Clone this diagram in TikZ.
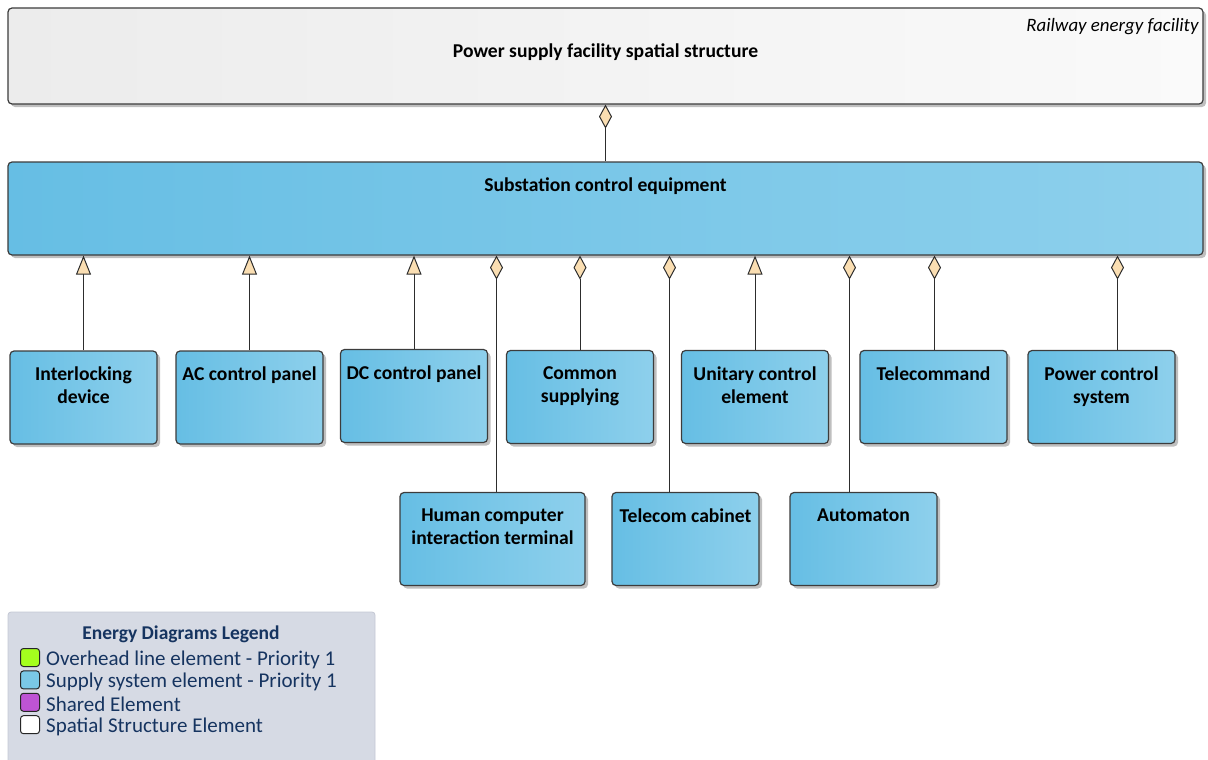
\documentclass[tikz,border=0pt]{standalone}
\usepackage{fontspec}
\setmainfont{Carlito}
\usepackage{tikz}
\usetikzlibrary{arrows.meta, positioning, shadows}
\definecolor{edgegray}{RGB}{60,60,60}
\definecolor{linegray}{RGB}{45,45,45}
\definecolor{elemL}{RGB}{102,190,228}
\definecolor{elemR}{RGB}{142,208,236}
\definecolor{spatL}{RGB}{236,236,236}
\definecolor{spatR}{RGB}{250,250,250}
\definecolor{tipfill}{RGB}{250,222,178}
\definecolor{legfill}{RGB}{214,218,228}
\definecolor{legedge}{RGB}{196,200,212}
\definecolor{legnavy}{RGB}{22,52,96}
\definecolor{ohlgreen}{RGB}{164,255,30}
\definecolor{supblue}{RGB}{122,200,230}
\definecolor{sharedpurple}{RGB}{190,84,212}
\tikzset{
  elem/.style={rectangle, draw=edgegray, line width=1.2pt, rounded corners=4pt,
    left color=elemL, right color=elemR, minimum width=147pt, minimum height=93pt,
    inner sep=0pt, drop shadow={shadow xshift=3pt, shadow yshift=-3pt, fill=black!25, opacity=1}},
  spatialbox/.style={elem, left color=spatL, right color=spatR,
    minimum width=1195pt, minimum height=96pt},
  elemtext/.style={anchor=north, yshift=-13pt, align=center,
    font=\bfseries\fontsize{19.6}{23}\selectfont},
  stereo/.style={anchor=north east, xshift=-1.5pt, yshift=-7pt,
    font=\itshape\fontsize{18.9}{23}\selectfont},
  compose/.style={draw=linegray, line width=1pt,
    -{Diamond[length=24pt, width=13pt, fill=tipfill]}},
  inherit/.style={draw=linegray, line width=1pt,
    -{Triangle[length=19pt, width=15pt, fill=tipfill]}},
  legendbox/.style={rectangle, draw=legedge, fill=legfill, line width=0.8pt,
    rounded corners=3pt, minimum width=367pt, minimum height=160pt},
  legtitle/.style={text=legnavy, font=\bfseries\fontsize{19.5}{22}\selectfont},
  legtext/.style={text=legnavy, anchor=west, inner sep=0pt,
    font=\fontsize{21}{22.5}\selectfont},
  swatch/.style={rectangle, draw=black!85, line width=1pt, rounded corners=3pt,
    minimum width=19pt, minimum height=18pt, inner sep=0pt}
}

\begin{document}
\begin{tikzpicture}[x=1pt, y=-1pt]
  \clip (0,0) rectangle (1208,760);

  % spatial structure and the equipment it holds
  \node[spatialbox, label={[elemtext, yshift=-20pt]north:Power supply facility spatial structure},
    label={[stereo]north east:Railway energy facility}] (spatial) at (605.5,56) {};
  \node[elem, minimum width=1195pt, label={[elemtext]north:Substation control equipment}]
    (substation) at (605.5,208.5) {};

  % first row
  \node[elem, label={[elemtext]north:Interlocking\\device}] (interlock) at (83.5,397.5) {};
  \node[elem, label={[elemtext]north:AC control panel}] (acpanel) at (249.5,397.5) {};
  \node[elem, label={[elemtext]north:DC control panel}] (dcpanel) at (414,396) {};
  \node[elem, label={[elemtext]north:Common\\supplying}] (common) at (580,397) {};
  \node[elem, label={[elemtext]north:Unitary control\\element}] (unitary) at (755,397) {};
  \node[elem, label={[elemtext]north:Telecommand}] (telecmd) at (933.5,397) {};
  \node[elem, label={[elemtext]north:Power control\\system}] (powerctl) at (1101.5,397) {};

  % second row
  \node[elem, minimum width=185pt, label={[elemtext]north:Human computer\\interaction terminal}]
    (hci) at (492.5,539) {};
  \node[elem, label={[elemtext]north:Telecom cabinet}] (telecab) at (685.5,539) {};
  \node[elem, label={[elemtext]north:Automaton}] (automaton) at (863.5,539) {};

  % connectors
  \draw[compose] (substation.north) -- (spatial.south);
  \foreach \n in {interlock, acpanel, dcpanel, unitary}
    \draw[inherit] (\n.north) -- (\n.north |- substation.south);
  \foreach \n/\dx in {common/0, telecmd/1, powerctl/16, hci/4, telecab/-16, automaton/-14}
    \draw[compose] ([xshift=\dx pt]\n.north) -- ([xshift=\dx pt]\n.north |- substation.south);

  % legend
  \node[legendbox] (legend) at (191.5,692) {};
  \node[legtitle] (legtitle) at (181,634) {Energy Diagrams Legend};
  \foreach \col/\txt [count=\i] in {ohlgreen/Overhead line element - Priority 1,
      supblue/Supply system element - Priority 1, sharedpurple/Shared Element,
      white/Spatial Structure Element} {
    \node[swatch, fill=\col] (sw\i) at (30,{657.5+22.4*(\i-1)}) {};
    \node[legtext] (lt\i) at ([xshift=6pt, yshift=-2pt]sw\i.east) {\txt};
  }
\end{tikzpicture}
\end{document}
